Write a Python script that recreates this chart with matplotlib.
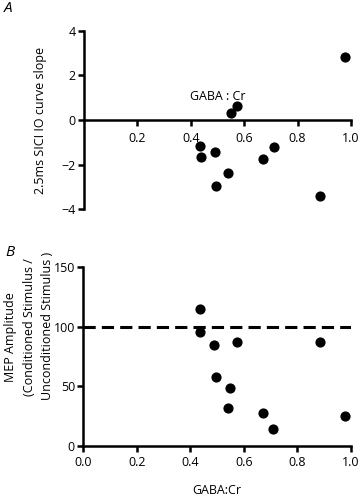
import matplotlib
matplotlib.use("Agg")
import matplotlib.pyplot as plt

plt.rcParams['font.family'] = ['Open Sans', 'DejaVu Sans']

# Data
gaba_cr = [0.976, 0.574, 0.549, 0.435, 0.437, 0.490, 0.495, 0.540, 0.672, 0.710, 0.885]
sici_slope = [2.81, 0.64, 0.30, -1.16, -1.66, -1.45, -2.94, -2.39, -1.73, -1.19, -3.39]

gaba_cr_b = [0.435, 0.437, 0.490, 0.574, 0.495, 0.549, 0.540, 0.672, 0.710, 0.885, 0.976]
mep_amp = [115, 95.6, 84.7, 87.2, 58.1, 48.9, 31.6, 28.0, 14.5, 87.0, 25.4]

xticks_a = [0.2, 0.4, 0.6, 0.8, 1.0]
xticklabels_a = ["0.2", "0.4", "0.6", "0.8", "1.0"]
yticks_a = [-4, -2, 0, 2, 4]
xticks_b = [0.0, 0.2, 0.4, 0.6, 0.8, 1.0]
xticklabels_b = ["0.0", "0.2", "0.4", "0.6", "0.8", "1.0"]
yticks_b = [0, 50, 100, 150]
ref_level = 100

W, H = 360, 499
fig = plt.figure(figsize=(W / 100, H / 100), dpi=100)

FS = 9
LW = 1.8
MS = 40

def box(l, t, r, b):
    return [l / W, 1 - b / H, (r - l) / W, (b - t) / H]

# Panel A
axA = fig.add_axes(box(84, 30.7, 351, 209.3))
axA.scatter(gaba_cr, sici_slope, s=MS, color='black', zorder=3, clip_on=False)
axA.set_xlim(0, 1.0)
axA.set_ylim(-4, 4)
axA.spines['top'].set_visible(False)
axA.spines['right'].set_visible(False)
axA.spines['bottom'].set_position(('data', 0))
axA.spines['left'].set_position(('data', 0))
for s in ('bottom', 'left'):
    axA.spines[s].set_linewidth(LW)
axA.set_xticks(xticks_a)
axA.set_xticklabels(xticklabels_a)
axA.set_yticks(yticks_a)
axA.tick_params(axis='both', direction='out', length=4.5, width=LW, labelsize=FS, pad=1.5)
axA.tick_params(axis='x', pad=4)
axA.set_ylabel("2.5ms SICI IO curve slope", fontsize=FS, labelpad=10)
axA.text(0.5, 1.05, "GABA : Cr", fontsize=FS, ha='center', va='center')

# Panel B
axB = fig.add_axes(box(83.3, 267.3, 351, 446))
axB.scatter(gaba_cr_b, mep_amp, s=MS, color='black', zorder=3, clip_on=False)
axB.axhline(ref_level, color='black', lw=2.2, ls=(0, (4.0, 2.0)))
axB.set_xlim(0, 1.0)
axB.set_ylim(0, 150)
axB.spines['top'].set_visible(False)
axB.spines['right'].set_visible(False)
for s in ('bottom', 'left'):
    axB.spines[s].set_linewidth(LW)
axB.set_xticks(xticks_b)
axB.set_xticklabels(xticklabels_b)
axB.set_yticks(yticks_b)
axB.tick_params(axis='both', direction='out', length=4.5, width=LW, labelsize=FS, pad=1.5)
axB.tick_params(axis='x', pad=3)

fig.text(11 / W, 1 - 337 / H, "MEP Amplitude", rotation=90, fontsize=FS,
         ha='center', va='center')
fig.text(30 / W, 1 - 327 / H, "(Conditioned Stimulus /", rotation=90, fontsize=FS,
         ha='center', va='center')
fig.text(48 / W, 1 - 326 / H, "Unconditioned Stimulus )", rotation=90, fontsize=FS,
         ha='center', va='center')

fig.text(217 / W, 1 - 491 / H, "GABA:Cr", fontsize=FS, ha='center', va='center')

fig.text(8 / W, 1 - 9 / H, "A", fontsize=11, style='italic', ha='center', va='center')
fig.text(10 / W, 1 - 253 / H, "B", fontsize=11, style='italic', ha='center', va='center')

fig.savefig("out.png", dpi=100)
